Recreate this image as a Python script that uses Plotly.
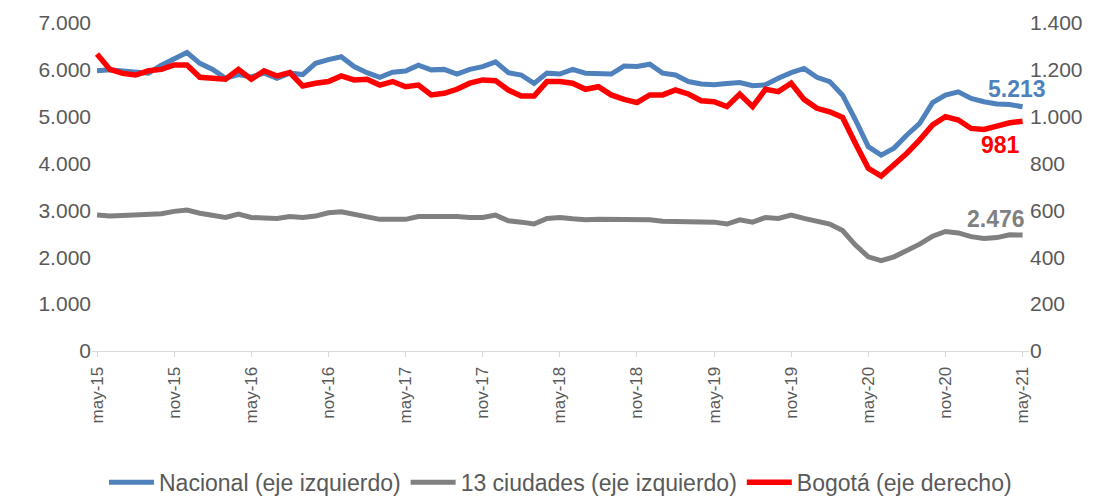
import plotly.graph_objects as go

month_names = ["ene", "feb", "mar", "abr", "may", "jun", "jul", "ago", "sep", "oct", "nov", "dic"]
months = []
for yy in range(15, 22):
    for m in range(12):
        if (yy == 15 and m < 4) or (yy == 21 and m > 4):
            continue
        months.append(f"{month_names[m]}-{yy}")

tick_labels = ["may-15", "nov-15", "may-16", "nov-16", "may-17", "nov-17", "may-18",
               "nov-18", "may-19", "nov-19", "may-20", "nov-20", "may-21"]

nacional = [5980, 6000, 5975, 5950, 5930, 6100, 6250, 6370, 6140, 6010,
            5820, 5900, 5850, 5930, 5820, 5930, 5900, 6140, 6220, 6280,
            6070, 5940, 5840, 5950, 5975, 6100, 6000, 6010, 5910, 6010,
            6070, 6170, 5940, 5890, 5710, 5930, 5910, 6010, 5930, 5930,
            5910, 6080, 6070, 6120, 5930, 5890, 5750, 5700, 5680, 5710,
            5730, 5660, 5680, 5820, 5940, 6030, 5840, 5750, 5460, 4930,
            4360, 4180, 4330, 4610, 4860, 5300, 5460, 5530, 5390, 5320,
            5270, 5260, 5213]

ciudades13 = [2900, 2880, 2890, 2900, 2920, 2930, 2980, 3010, 2940, 2900,
              2850, 2920, 2850, 2840, 2830, 2870, 2850, 2880, 2950, 2970,
              2920, 2870, 2810, 2810, 2810, 2870, 2870, 2880, 2870, 2850,
              2850, 2900, 2780, 2750, 2710, 2830, 2850, 2820, 2800, 2810,
              2810, 2800, 2790, 2800, 2770, 2770, 2770, 2750, 2750, 2710,
              2800, 2750, 2850, 2830, 2900, 2830, 2760, 2710, 2570, 2260,
              2010, 1930, 2010, 2140, 2280, 2450, 2550, 2520, 2440, 2400,
              2420, 2480, 2476]

bogota = [1268, 1202, 1185, 1178, 1196, 1202, 1221, 1221, 1168, 1164,
          1160, 1202, 1160, 1196, 1174, 1188, 1131, 1143, 1150, 1174,
          1157, 1160, 1135, 1150, 1128, 1135, 1093, 1100, 1117, 1143,
          1157, 1154, 1114, 1088, 1088, 1150, 1150, 1143, 1117, 1128,
          1093, 1074, 1060, 1093, 1093, 1114, 1097, 1068, 1064, 1043,
          1097, 1043, 1117, 1107, 1143, 1074, 1036, 1021, 997, 886,
          780, 747, 794, 844, 901, 965, 1000, 986, 950, 946,
          960, 974, 981]

BLUE = "#4F81BD"
GRAY = "#808080"
RED = "#FF0000"
FONT = "Liberation Sans, Arial, sans-serif"
TXT = "#595959"

fig = go.Figure()
fig.add_trace(go.Scatter(x=months, y=nacional, mode="lines", name="Nacional (eje izquierdo)",
                         line=dict(color=BLUE, width=5), yaxis="y"))
fig.add_trace(go.Scatter(x=months, y=ciudades13, mode="lines", name="13 ciudades (eje izquierdo)",
                         line=dict(color=GRAY, width=5), yaxis="y"))
fig.add_trace(go.Scatter(x=months, y=bogota, mode="lines", name="Bogotá (eje derecho)",
                         line=dict(color=RED, width=5.5), yaxis="y2"))

fig.add_annotation(x=months[-1], y=nacional[-1], yref="y", text="<b>5.213</b>", showarrow=False,
                   xshift=-6, yshift=18, font=dict(family=FONT, size=23, color=BLUE))
fig.add_annotation(x=months[-1], y=bogota[-1], yref="y2", text="<b>981</b>", showarrow=False,
                   xshift=-22, yshift=-24, font=dict(family=FONT, size=23, color=RED))
fig.add_annotation(x=months[-1], y=ciudades13[-1], yref="y", text="<b>2.476</b>", showarrow=False,
                   xshift=-27, yshift=16, font=dict(family=FONT, size=23, color=GRAY))

fig.update_layout(
    width=1107, height=489,
    margin=dict(l=84, r=86, t=15, b=146, autoexpand=False),
    paper_bgcolor="white", plot_bgcolor="white",
    separators=",.",
    font=dict(family=FONT, size=18, color=TXT),
    showlegend=True,
    legend=dict(orientation="h", x=0.5, xanchor="center", y=-0.40, yanchor="middle",
                font=dict(family=FONT, size=23, color=TXT), itemwidth=45,
                tracegroupgap=0),
    xaxis=dict(type="category", range=[-0.39, 72.5], tickmode="array",
               tickvals=tick_labels, ticktext=tick_labels, tickangle=-90,
               showgrid=False, showline=True, linecolor="#D9D9D9", linewidth=1,
               ticks="outside", ticklen=5, tickcolor="#D9D9D9", automargin=False,
               ticklabelstandoff=3,
               tickfont=dict(family=FONT, size=17, color=TXT), zeroline=False),
    yaxis=dict(range=[0, 7000], dtick=1000, tickformat=",", showgrid=False,
               showline=False, zeroline=False, ticks="", automargin=False,
               tickfont=dict(family=FONT, size=21, color=TXT)),
    yaxis2=dict(range=[0, 1400], dtick=200, tickformat=",", overlaying="y", side="right",
                showgrid=False, showline=False, zeroline=False, ticks="", automargin=False,
                tickfont=dict(family=FONT, size=21, color=TXT)),
)

fig.write_html("out.html")
